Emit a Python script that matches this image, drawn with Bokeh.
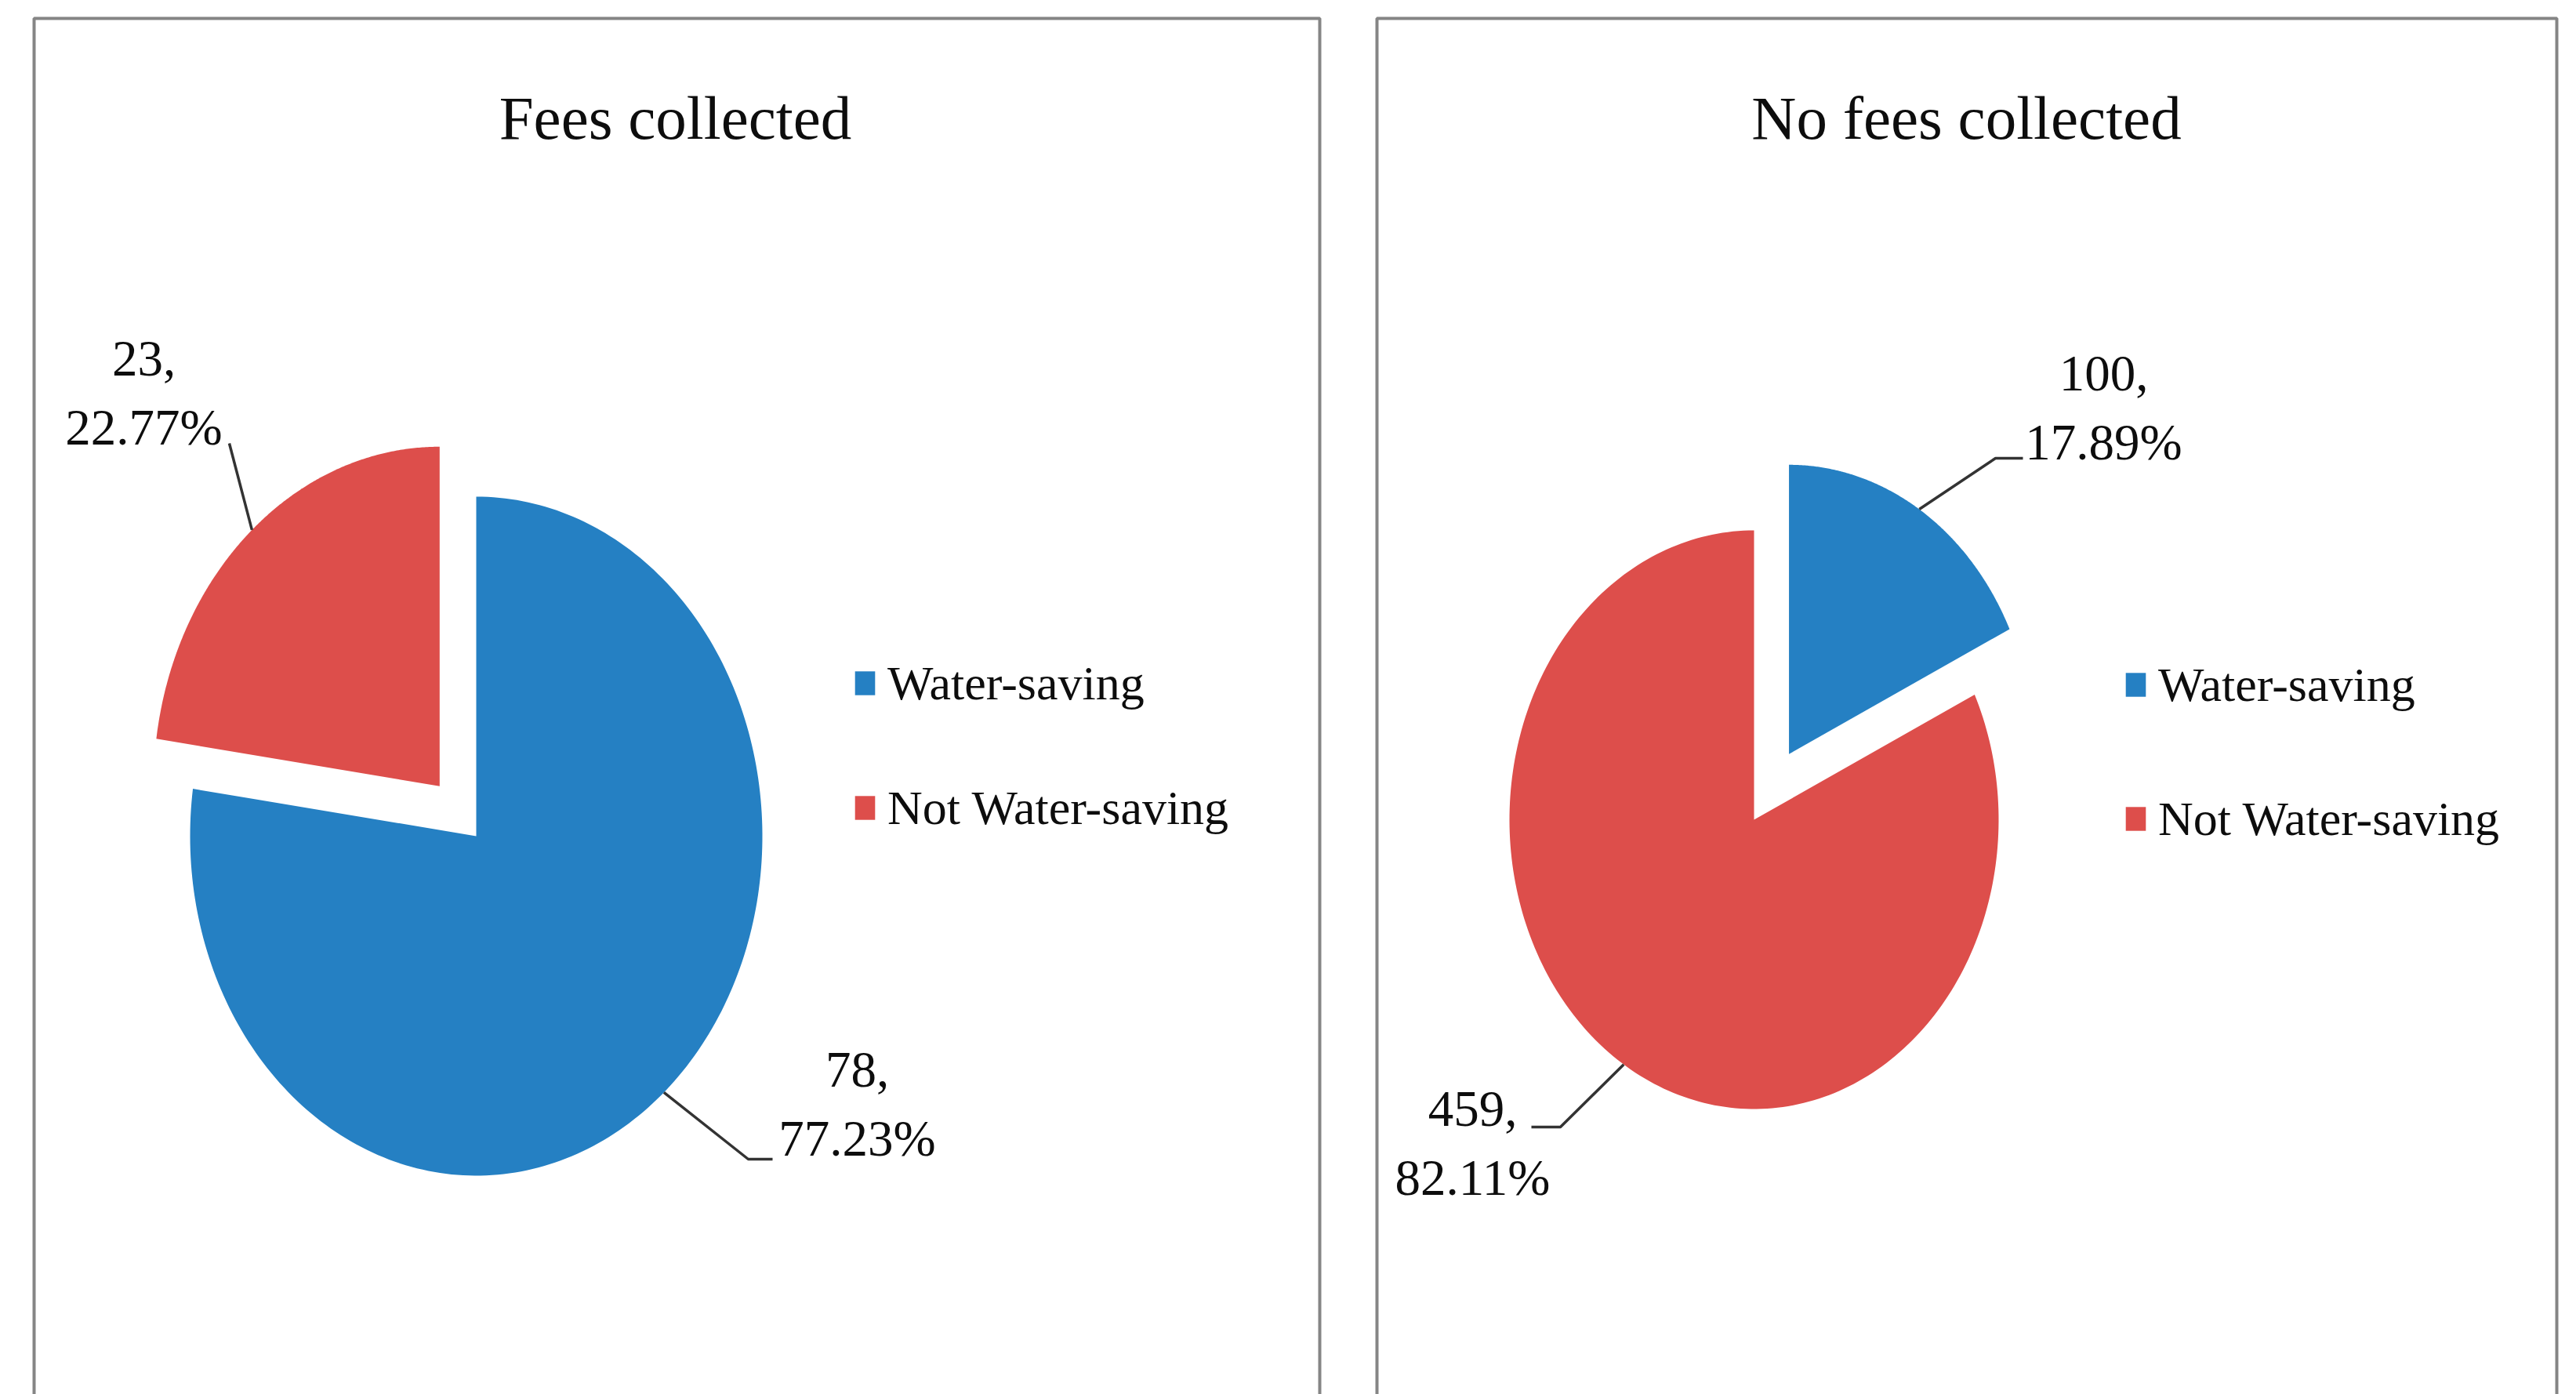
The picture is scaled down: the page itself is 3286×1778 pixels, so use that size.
import numpy as np
from bokeh.plotting import figure
from bokeh.models import Range1d, ColumnDataSource, Legend, LegendItem, BoxAnnotation, Label
from bokeh.embed import file_html
from bokeh.resources import INLINE
from bokeh.core.properties import value

# ---------------- data ----------------
titles = ["Fees collected", "No fees collected"]
categories = ["Water-saving", "Not Water-saving"]
fees_collected = [78, 23]
no_fees_collected = [100, 459]
series = [fees_collected, no_fees_collected]
colors = ["#2580c3", "#dd4e4b"]

FONT = "Liberation Serif"

# ---------------- layout (pixels of the page) ----------------
W, H = 3286, 1778
panels = [
    dict(box=(43, 1683, 23), title_xy=(861, 150), center=(607, 1066), rx=365, ry=433,
         explode=1, dist=0.195,
         # label anchor (center x, baseline of first line) per slice
         labels=[(1093, 1364), (183, 457)],
         # leader line extra points (from arc outward) per slice
         leaders=[[(954, 1478), (985, 1478)], [(292, 565)]],
         legend=dict(x=1087, y=708, spacing=79)),
    dict(box=(1756, 3261, 23), title_xy=(2508, 150), center=(2237, 1045), rx=312, ry=369,
         explode=0, dist=0.268,
         labels=[(2683, 476), (1878, 1414)],
         leaders=[[(2545, 584), (2580, 584)], [(1990, 1437), (1953, 1437)]],
         legend=dict(x=2708, y=694, spacing=91)),
]

p = figure(width=W, height=H, x_range=Range1d(0, W), y_range=Range1d(H, 0),
           output_backend="svg", toolbar_location=None, min_border=0,
           x_axis_type=None, y_axis_type=None, outline_line_color=None,
           background_fill_color="white", border_fill_color="white")
p.grid.visible = False

for vals, title, spec in zip(series, titles, panels):
    left, right, top = spec["box"]
    p.add_layout(BoxAnnotation(left=left, right=right, top=top, bottom=H + 40,
                               fill_color=None, fill_alpha=0,
                               line_color="#858585", line_alpha=1.0, line_width=4))
    tx, ty = spec["title_xy"]
    p.add_layout(Label(x=tx, y=ty, text=title, text_font=FONT, text_font_size="79px",
                       text_align="center", text_baseline="alphabetic", text_color="#0d0d0d"))

    total = float(sum(vals))
    fr = np.array(vals) / total
    bounds = np.concatenate([[0.0], np.cumsum(fr)]) * 2 * np.pi
    cx0, cy0 = spec["center"]
    rx, ry = spec["rx"], spec["ry"]
    xs, ys, lx, ly = [], [], [], []
    for i in range(len(vals)):
        t0, t1 = bounds[i], bounds[i + 1]
        tm = 0.5 * (t0 + t1)
        d = spec["dist"] if i == spec["explode"] else 0.0
        cx = cx0 + d * rx * np.sin(tm)
        cy = cy0 - d * ry * np.cos(tm)
        t = np.linspace(t0, t1, 240)
        xs.append(np.concatenate([[cx], cx + rx * np.sin(t), [cx]]))
        ys.append(np.concatenate([[cy], cy - ry * np.cos(t), [cy]]))
        # leader line: from arc midpoint out to the label
        ax, ay = cx + rx * np.sin(tm), cy - ry * np.cos(tm)
        pts = [(ax, ay)] + spec["leaders"][i]
        lx.append([q[0] for q in pts])
        ly.append([q[1] for q in pts])

    src = ColumnDataSource(dict(xs=xs, ys=ys, color=colors[:len(vals)], cat=categories))
    r = p.patches("xs", "ys", source=src, fill_color="color", line_color=None)
    p.multi_line(lx, ly, line_color="#333333", line_width=3.5)

    # data labels "value,\npercent"
    tx_, ty_, tt_ = [], [], []
    for i, v in enumerate(vals):
        x0, y0 = spec["labels"][i]
        tx_ += [x0, x0]
        ty_ += [y0, y0 + 87]
        tt_ += [f"{v},", f"{100 * v / total:.2f}%"]
    p.text(x=tx_, y=ty_, text=tt_, text_font=value(FONT), text_font_size="65px",
           text_align="center", text_baseline="alphabetic", text_color="#0d0d0d")

    lg = spec["legend"]
    legend = Legend(items=[LegendItem(label=c, renderers=[r], index=i) for i, c in enumerate(categories)],
                    location=(lg["x"], lg["y"]), orientation="vertical",
                    padding=0, margin=0, spacing=lg["spacing"],
                    glyph_width=32, glyph_height=38, label_height=80, label_standoff=13,
                    label_text_font=FONT, label_text_font_size="62px", label_text_color="#0d0d0d",
                    border_line_color=None, background_fill_alpha=0)
    p.add_layout(legend)

open("out.html", "w").write(file_html(p, INLINE))
